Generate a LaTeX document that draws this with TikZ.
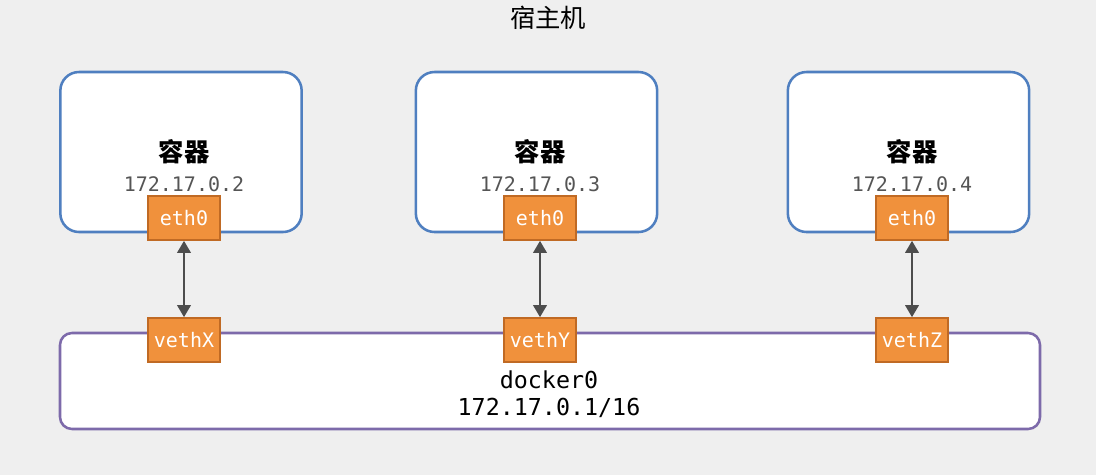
\documentclass[tikz,border=0pt]{standalone}
\usepackage{fontspec}
\setmonofont{DejaVu Sans Mono}
\newfontfamily\cjk{Noto Sans CJK SC}
\definecolor{bggray}{HTML}{EFEFEF}
\definecolor{ctblue}{HTML}{4F7FC0}
\definecolor{brpurple}{HTML}{7D6AAA}
\definecolor{ifacefill}{HTML}{F0913C}
\definecolor{ifaceline}{HTML}{C06A24}
\definecolor{ipgray}{HTML}{555555}
\definecolor{arrgray}{HTML}{4D4D4D}
\tikzset{
  container/.style={draw=ctblue, line width=1.9pt, fill=white, rounded corners=14pt,
    minimum width=181pt, minimum height=120pt},
  bridge/.style={draw=brpurple, line width=1.9pt, fill=white, rounded corners=9pt,
    minimum width=735pt, minimum height=72pt},
  iface/.style={draw=ifaceline, line width=1.2pt, fill=ifacefill, text=white,
    font=\ttfamily\fontsize{15}{17}\selectfont, minimum width=54pt, minimum height=33pt,
    inner sep=0pt},
  cjklabel/.style={font=\cjk\bfseries\fontsize{19}{21}\selectfont},
  titlelabel/.style={font=\cjk\fontsize{19}{21}\selectfont},
  iplabel/.style={font=\ttfamily\fontsize{15}{17}\selectfont, text=ipgray},
  brlabel/.style={font=\ttfamily\fontsize{17.5}{19}\selectfont},
  link/.style={<->, >={Triangle[length=9pt,width=10pt]}, draw=arrgray, line width=1.8pt}
}
\usetikzlibrary{arrows.meta}
\begin{document}
\begin{tikzpicture}[x=0.75pt, y=-0.75pt]
  \fill[bggray] (0,0) rectangle (1096,475);
  \useasboundingbox (0,0) rectangle (1096,475);
  \node[titlelabel] (host) at (548,18) {宿主机};
  % containers
  \draw
    (181,152) node[container] (c1){}
    (536.5,152) node[container] (c2){}
    (908.5,152) node[container] (c3){};
  \node[cjklabel] (n1) at (184,152) {容器};
  \node[cjklabel] (n2) at (540,152) {容器};
  \node[cjklabel] (n3) at (912,152) {容器};
  \node[iplabel] (ip1) at (184,184) {172.17.0.2};
  \node[iplabel] (ip2) at (540,184) {172.17.0.3};
  \node[iplabel] (ip3) at (912,184) {172.17.0.4};
  % bridge
  \node[bridge] (br) at (550,381) {};
  \node[brlabel] (brname) at (549,380) {docker0};
  \node[brlabel] (brip) at (549,408) {172.17.0.1/16};
  % interfaces
  \draw
    (184,218) node[iface] (e1){eth0}
    (540,218) node[iface] (e2){eth0}
    (912,218) node[iface] (e3){eth0}
    (184,340) node[iface] (v1){vethX}
    (540,340) node[iface] (v2){vethY}
    (912,340) node[iface] (v3){vethZ};
  \begin{scope}[link]
    \draw (e1) to (v1);
    \draw (e2) to (v2);
    \draw (e3) to (v3);
  \end{scope}
\end{tikzpicture}
\end{document}
